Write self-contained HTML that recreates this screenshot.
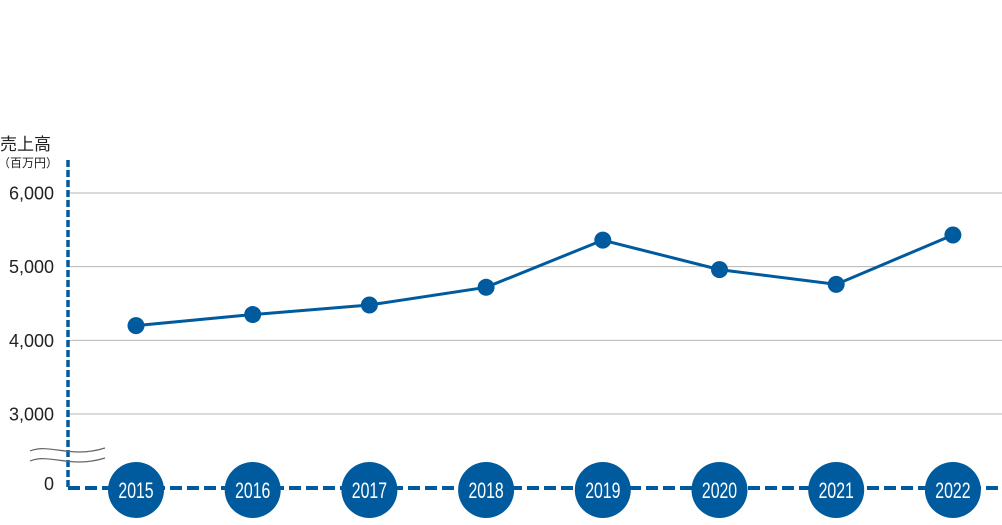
<!DOCTYPE html>
<html><head><meta charset="utf-8"><style>
body{margin:0;background:#fff;width:1002px;height:520px;overflow:hidden}
svg text{font-family:"Liberation Sans","Noto Sans CJK JP",sans-serif}
</style></head><body>
<svg id="chart" width="1002" height="520" viewBox="0 0 1002 520" xmlns="http://www.w3.org/2000/svg">
<text x="0" y="150" font-size="17" fill="#222">売上高</text>
<text x="-2" y="167" font-size="12" fill="#222">（百万円）</text>
<g id="grid"></g>
<g id="ticks"></g>
<line x1="68" y1="160" x2="68" y2="489" stroke="#005b9e" stroke-width="3.5" stroke-dasharray="7,3"/>
<line x1="68" y1="488" x2="1002" y2="488" stroke="#005b9e" stroke-width="4" stroke-dasharray="12,5"/>
<g fill="none" stroke="#666" stroke-width="1.2">
<path d="M30 451 C50 443,70 459,105 448"/>
<path d="M30 461 C50 453,70 469,105 458"/>
</g>
<text x="54" y="490" font-size="18" fill="#222" text-anchor="end">0</text>
<g id="series"></g>
<g id="xlabels"></g>
</svg>
<script>
const years=["2015","2016","2017","2018","2019","2020","2021","2022"];
const sales=[4200,4350,4480,4720,5360,4960,4760,5430];
const yTicks=[3000,4000,5000,6000];
const NS="http://www.w3.org/2000/svg";
function xPos(i){return 136+i*116.7;}
function yPos(v){return 193+(6000-v)*0.07367;}
function mk(tag,attrs,parent){const e=document.createElementNS(NS,tag);for(const k in attrs)e.setAttribute(k,attrs[k]);parent.appendChild(e);return e;}
const grid=document.getElementById('grid'),ticks=document.getElementById('ticks');
yTicks.forEach(t=>{
 const l=mk('line',{x1:68,x2:1002,y1:yPos(t),y2:yPos(t),stroke:'#b5b5b5','stroke-width':1},grid);
 
 
 const tx=mk('text',{x:54,y:yPos(t)+6.5,'font-size':18,fill:'#222','text-anchor':'end'},ticks);
 tx.textContent=t.toLocaleString('en-US');
 
 
});
const ser=document.getElementById('series');
const pl=mk('polyline',{points:sales.map((v,i)=>xPos(i)+','+yPos(v)).join(' '),fill:'none',stroke:'#005b9e','stroke-width':3},ser);


sales.forEach((v,i)=>{
 const c=mk('circle',{cx:xPos(i),cy:yPos(v),r:8.5,fill:'#005b9e'},ser);
 
 
});
const xl=document.getElementById('xlabels');
years.forEach((y,i)=>{
 const c=mk('circle',{cx:xPos(i),cy:490,r:28,fill:'#005b9e'},xl);
 
 
 const t=mk('text',{x:0,y:0,'font-size':22,fill:'#fff','text-anchor':'middle',transform:'translate('+xPos(i)+',498) scale(0.72,1)'},xl);
 t.textContent=y;
 
 
});
</script>
</body></html>
